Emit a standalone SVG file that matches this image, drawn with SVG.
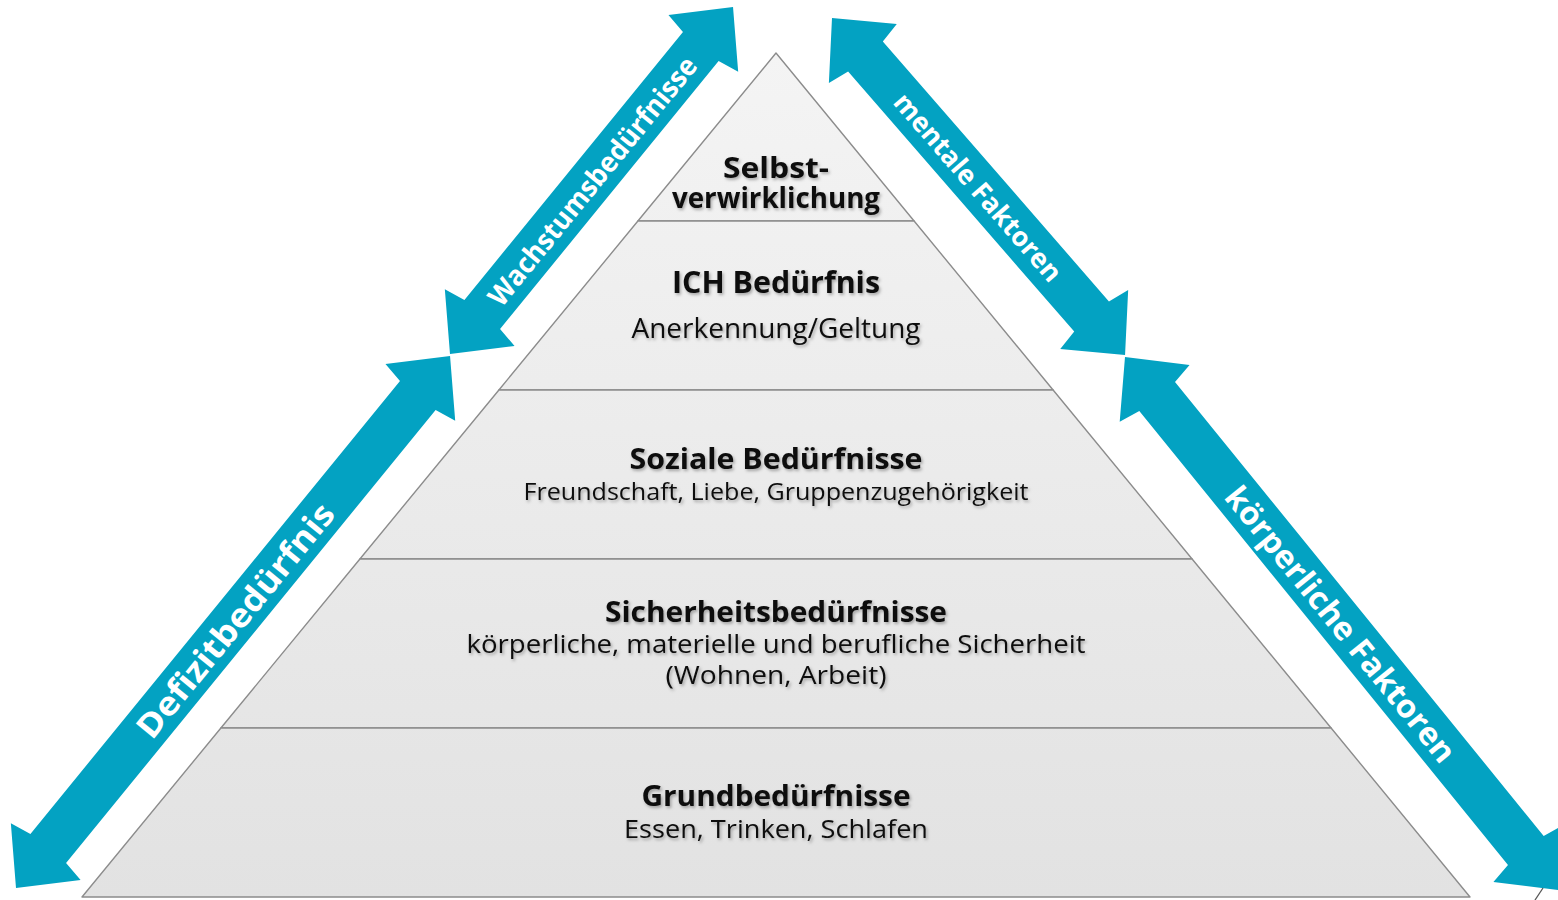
<svg xmlns="http://www.w3.org/2000/svg" width="1558" height="900" viewBox="0 0 1558 900">
  <style>
    .band { stroke: #8c8c8c; stroke-width: 1.4; stroke-linejoin: round; }
    .title { font-family: "Open Sans", "Liberation Sans", sans-serif; font-weight: 700; fill: #111; text-anchor: middle; }
    .sub { font-family: "Open Sans", "Liberation Sans", sans-serif; font-weight: 400; fill: #111; text-anchor: middle; }
    .arrow { fill: #03a2c2; }
    .alabel { font-family: "Open Sans", "Liberation Sans", sans-serif; font-weight: 700; fill: #fff; text-anchor: middle; dominant-baseline: central; }
  </style>
  <defs>
    <linearGradient id="pyrFill" gradientUnits="userSpaceOnUse" x1="0" y1="53" x2="0" y2="897">
      <stop offset="0" stop-color="#f4f4f4"/>
      <stop offset="1" stop-color="#e2e2e2"/>
    </linearGradient>
    <filter id="txtShadow" x="-10%" y="-30%" width="120%" height="160%">
      <feDropShadow dx="1.5" dy="2" stdDeviation="1.6" flood-color="#000" flood-opacity="0.3"/>
    </filter>
  </defs>

  <rect width="1558" height="900" fill="#fff"/>

  <!-- pyramid layers, top to bottom -->
  <g id="layer-selbstverwirklichung">
    <polygon class="band" fill="url(#pyrFill)" points="776,53 914.1,221 637.9,221"/>
    <g filter="url(#txtShadow)">
      <text class="title" x="776" y="178" font-size="28" textLength="106" lengthAdjust="spacingAndGlyphs">Selbst-</text>
      <text class="title" x="776" y="208" font-size="28" textLength="208" lengthAdjust="spacingAndGlyphs">verwirklichung</text>
    </g>
  </g>
  <g id="layer-ich">
    <polygon class="band" fill="url(#pyrFill)" points="637.9,221 914.1,221 1053.1,390 498.9,390"/>
    <g filter="url(#txtShadow)">
      <text class="title" x="776" y="293" font-size="30" textLength="208" lengthAdjust="spacingAndGlyphs">ICH Bedürfnis</text>
      <text class="sub" x="776" y="338" font-size="27" textLength="289" lengthAdjust="spacingAndGlyphs">Anerkennung/Geltung</text>
    </g>
  </g>
  <g id="layer-sozial">
    <polygon class="band" fill="url(#pyrFill)" points="498.9,390 1053.1,390 1192.1,559 359.9,559"/>
    <g filter="url(#txtShadow)">
      <text class="title" x="776" y="469" font-size="29" textLength="293" lengthAdjust="spacingAndGlyphs">Soziale Bedürfnisse</text>
      <text class="sub" x="776" y="500" font-size="24" textLength="505" lengthAdjust="spacingAndGlyphs">Freundschaft, Liebe, Gruppenzugehörigkeit</text>
    </g>
  </g>
  <g id="layer-sicherheit">
    <polygon class="band" fill="url(#pyrFill)" points="359.9,559 1192.1,559 1331.1,728 220.9,728"/>
    <g filter="url(#txtShadow)">
      <text class="title" x="776" y="622" font-size="29" textLength="342" lengthAdjust="spacingAndGlyphs">Sicherheitsbedürfnisse</text>
      <text class="sub" x="776" y="653" font-size="26" textLength="619" lengthAdjust="spacingAndGlyphs">körperliche, materielle und berufliche Sicherheit</text>
      <text class="sub" x="776" y="684" font-size="26" textLength="221" lengthAdjust="spacingAndGlyphs">(Wohnen, Arbeit)</text>
    </g>
  </g>
  <g id="layer-grund">
    <polygon class="band" fill="url(#pyrFill)" points="220.9,728 1331.1,728 1470,897 82,897"/>
    <g filter="url(#txtShadow)">
      <text class="title" x="776" y="806" font-size="29" textLength="269" lengthAdjust="spacingAndGlyphs">Grundbedürfnisse</text>
      <text class="sub" x="776" y="838" font-size="26" textLength="304" lengthAdjust="spacingAndGlyphs">Essen, Trinken, Schlafen</text>
    </g>
  </g>

  <!-- double-headed block arrows along the pyramid flanks -->
  <g id="arrows">
    <g id="arrow-wachstum" transform="translate(450,354) rotate(-50.80)">
      <polygon class="arrow" points="0,0 47,-45 51,-23 396.8,-23 400.8,-45 447.8,0 400.8,45 396.8,23 51,23 47,45"/>
      <text class="alabel" x="224" y="0" font-size="28" textLength="312" lengthAdjust="spacingAndGlyphs">Wachstumsbedürfnisse</text>
    </g>
    <g id="arrow-defizit" transform="translate(16,888) rotate(-50.79)">
      <polygon class="arrow" points="0,0 47,-45 51,-23 635.6,-23 639.6,-45 686.6,0 639.6,45 635.6,23 51,23 47,45"/>
      <text class="alabel" x="346" y="0" font-size="33" textLength="292" lengthAdjust="spacingAndGlyphs">Defizitbedürfnis</text>
    </g>
    <g id="arrow-mental" transform="translate(832,18) rotate(48.99)">
      <polygon class="arrow" points="0,0 47,-45 51,-23 395.6,-23 399.6,-45 446.6,0 399.6,45 395.6,23 51,23 47,45"/>
      <text class="alabel" x="223.5" y="0" font-size="27" textLength="240" lengthAdjust="spacingAndGlyphs">mentale Faktoren</text>
    </g>
    <g id="arrow-koerper" transform="translate(1125,357) rotate(50.91)">
      <polygon class="arrow" points="0,0 47,-45 51,-23 635.7,-23 639.7,-45 686.7,0 639.7,45 635.7,23 51,23 47,45"/>
      <text class="alabel" x="343.5" y="0" font-size="32" textLength="345" lengthAdjust="spacingAndGlyphs">körperliche Faktoren</text>
    </g>
  </g>

  <!-- edge of a shape running off the lower right corner -->
  <line x1="1543" y1="888" x2="1535" y2="900" stroke="#555" stroke-width="1.3"/>
</svg>
